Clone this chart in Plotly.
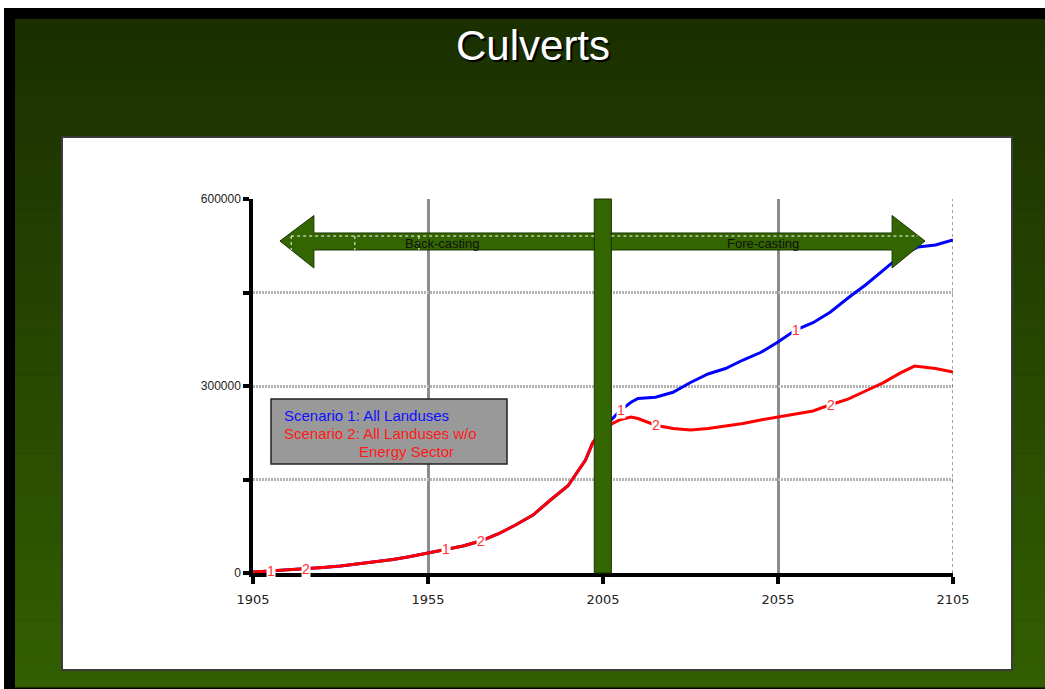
import numpy as np
import plotly.graph_objects as go

# ---- data -------------------------------------------------------------
years_s2 = [1905, 1910, 1915, 1920, 1925, 1930, 1935, 1940, 1945, 1950, 1955,
            1960, 1965, 1970, 1975, 1980, 1985, 1990, 1995, 2000, 2002, 2005,
            2010, 2013, 2015, 2020, 2025, 2030, 2035, 2040, 2045, 2050, 2055,
            2060, 2065, 2070, 2075, 2080, 2085, 2090, 2094, 2100, 2105]
culverts_s2 = [1600, 3200, 4800, 6400, 8800, 11200, 14400, 17600, 21700, 26500, 32100,
               38500, 43300, 51300, 62600, 77000, 93000, 117100, 140000, 181300, 208000, 232000,
               246300, 250300, 247900, 237000, 231800, 229400, 231800, 235800, 239800, 245500, 250300,
               254300, 259900, 270000, 279000, 292000, 305000, 321000, 332000, 328000, 322500]

years_s1 = [2005, 2008, 2010, 2013, 2015, 2020, 2025, 2030, 2035, 2040, 2045, 2050,
            2055, 2060, 2065, 2070, 2075, 2080, 2085, 2090, 2095, 2100, 2105]
culverts_s1 = [232000, 248700, 261000, 274000, 280000, 282000, 290000, 305600, 319300, 328100, 341700, 353700,
               370600, 389800, 401500, 418700, 441200, 462000, 485300, 508600, 523000, 526200, 534200]

# scenario line markers ("1" / "2") along each curve
marks_s1 = [1910, 1960, 2010, 2060]
marks_s2 = [1920, 1970, 2020, 2070]

x_ticks = [1905, 1955, 2005, 2055, 2105]
y_ticks = [0, 150000, 300000, 450000, 600000]
y_tick_text = ["0", "", "300000", "", "600000"]

# ---- page geometry (pixels) -------------------------------------------
W, H = 1045, 689
L, R, T, B = 253, 953, 199, 573


def px(x):
    return (x - L) / (R - L)


def py(y):
    return (B - y) / (B - T)


fig = go.Figure()

# scenario 1 shares the history with scenario 2, then runs above it
hist = years_s2.index(2005) + 1
s1_x = years_s2[:hist] + years_s1[1:]
s1_y = culverts_s2[:hist] + culverts_s1[1:]
fig.add_trace(go.Scatter(x=s1_x, y=s1_y, mode="lines",
                         line=dict(color="#0000ff", width=3), hoverinfo="skip"))
fig.add_trace(go.Scatter(x=years_s2, y=culverts_s2, mode="lines",
                         line=dict(color="#ff0000", width=3), hoverinfo="skip"))

shapes = []
# slide frame
shapes.append(dict(type="rect", xref="paper", yref="paper", layer="below",
                   x0=px(4), x1=px(W + 5), y0=py(8), y1=py(H + 5),
                   fillcolor="#000000", line=dict(width=0)))
# slide gradient
top_c = np.array([27, 48, 0])
bot_c = np.array([50, 95, 0])
g0, g1 = 19, 687
n = 60
for i in range(n):
    t = i / (n - 1)
    c = top_c + (bot_c - top_c) * t
    ya = g0 + (g1 - g0) * i / n
    yb = g0 + (g1 - g0) * (i + 1) / n + 0.6
    shapes.append(dict(type="rect", xref="paper", yref="paper", layer="below",
                       x0=px(15), x1=px(W + 5), y0=py(ya), y1=py(yb),
                       fillcolor="rgb(%d,%d,%d)" % tuple(c.astype(int)),
                       line=dict(width=0)))
# white chart panel
shapes.append(dict(type="rect", xref="paper", yref="paper", layer="below",
                   x0=px(62), x1=px(1012), y0=py(670), y1=py(137),
                   fillcolor="#ffffff", line=dict(color="#3a3a3a", width=2)))

# right frame edge
shapes.append(dict(type="line", xref="x", yref="paper", x0=2105, x1=2105, y0=0, y1=1,
                   line=dict(color="#444444", width=1, dash="dot")))

# 2005 divider bar
shapes.append(dict(type="rect", xref="x", yref="paper", layer="above",
                   x0=2002.5, x1=2007.4, y0=0, y1=1,
                   fillcolor="#336600", line=dict(color="#1c3300", width=1)))

# back-casting / fore-casting arrows
shaft_hi, shaft_lo = 545500, 518200
head_hi, head_lo, tip_y = 573500, 489300, 532600
left_arrow = (f"M 2002.5,{shaft_hi} L 1922.4,{shaft_hi} L 1922.4,{head_hi} "
              f"L 1912.7,{tip_y} L 1922.4,{head_lo} L 1922.4,{shaft_lo} L 2002.5,{shaft_lo} Z")
right_arrow = (f"M 2007.4,{shaft_hi} L 2087.6,{shaft_hi} L 2087.6,{head_hi} "
               f"L 2097,{tip_y} L 2087.6,{head_lo} L 2087.6,{shaft_lo} L 2007.4,{shaft_lo} Z")
for p in (left_arrow, right_arrow):
    shapes.append(dict(type="path", xref="x", yref="y", layer="above", path=p,
                       fillcolor="#336600", line=dict(color="#1c3300", width=1)))
dash_y = 540600
for xa, xb in ((1915.9, 2002.5), (2007.4, 2095)):
    shapes.append(dict(type="line", xref="x", yref="y", layer="above",
                       x0=xa, x1=xb, y0=dash_y, y1=dash_y,
                       line=dict(color="#ffffff", width=1, dash="dot")))
for xv in (1915.9, 1934.1, 1952.4):
    shapes.append(dict(type="line", xref="x", yref="y", layer="above",
                       x0=xv, x1=xv, y0=dash_y, y1=shaft_lo,
                       line=dict(color="#ffffff", width=1, dash="dot")))

# scenario key box
shapes.append(dict(type="rect", xref="paper", yref="paper", layer="above",
                   x0=px(271), x1=px(507), y0=py(464), y1=py(399),
                   fillcolor="#999999", line=dict(color="#222222", width=1.5)))


def note(x, y, text, font, xanchor="center"):
    return dict(xref="paper", yref="paper", x=px(x), y=py(y), text=text,
                showarrow=False, xanchor=xanchor, yanchor="middle", font=font)


annotations = [
    note(533, 46, "Culverts", dict(family="Arial", size=42, color="#ffffff",
                                   shadow="2px 2px 1px #000000")),
    note(442, 243, "Back-casting", dict(family="Arial", size=13, color="#111111")),
    note(763, 243, "Fore-casting", dict(family="Arial", size=13, color="#111111")),
]
key_font = dict(family="Arial", size=15)
annotations += [
    note(282, 415, "Scenario 1: All Landuses", dict(key_font, color="#1010ff"), "left"),
    note(282, 433, "Scenario 2: All Landuses w/o", dict(key_font, color="#ff1a1a"), "left"),
    note(357, 451, "Energy Sector", dict(key_font, color="#ff1a1a"), "left"),
]

# numbered markers on the curves
mark_font = dict(family="Arial", size=14, color="#ff3333")
for yr in marks_s1:
    annotations.append(dict(x=yr, y=float(np.interp(yr, s1_x, s1_y)), text="1",
                            xanchor="center", yanchor="middle",
                            showarrow=False, bgcolor="#ffffff", borderpad=0, font=mark_font))
for yr in marks_s2:
    annotations.append(dict(x=yr, y=float(np.interp(yr, years_s2, culverts_s2)), text="2",
                            xanchor="center", yanchor="middle",
                            showarrow=False, bgcolor="#ffffff", borderpad=0, font=mark_font))

fig.update_layout(
    width=W, height=H,
    margin=dict(l=L, r=W - R, t=T, b=H - B, pad=0),
    paper_bgcolor="#ffffff", plot_bgcolor="rgba(0,0,0,0)",
    showlegend=False,
    shapes=shapes, annotations=annotations,
    xaxis=dict(range=[1905, 2105], tickvals=x_ticks, ticktext=[str(v) for v in x_ticks],
               showline=True, linecolor="#000000", linewidth=4,
               ticks="outside", ticklen=7, tickwidth=4, tickcolor="#000000",
               ticklabelstandoff=4,
               showgrid=True, gridcolor="#8c8c8c", gridwidth=2.5,
               zeroline=False,
               tickfont=dict(family="DejaVu Sans", size=13, color="#222222")),
    yaxis=dict(range=[0, 600000], tickvals=y_ticks, ticktext=y_tick_text,
               showline=True, linecolor="#000000", linewidth=3.5,
               ticks="outside", ticklen=6, tickwidth=3.5, tickcolor="#000000",
               showgrid=True, gridcolor="#b4b4b4", gridwidth=3, griddash="2px,1px",
               zeroline=False,
               tickfont=dict(family="Arial", size=12, color="#222222")),
)

fig.write_html("out.html")
